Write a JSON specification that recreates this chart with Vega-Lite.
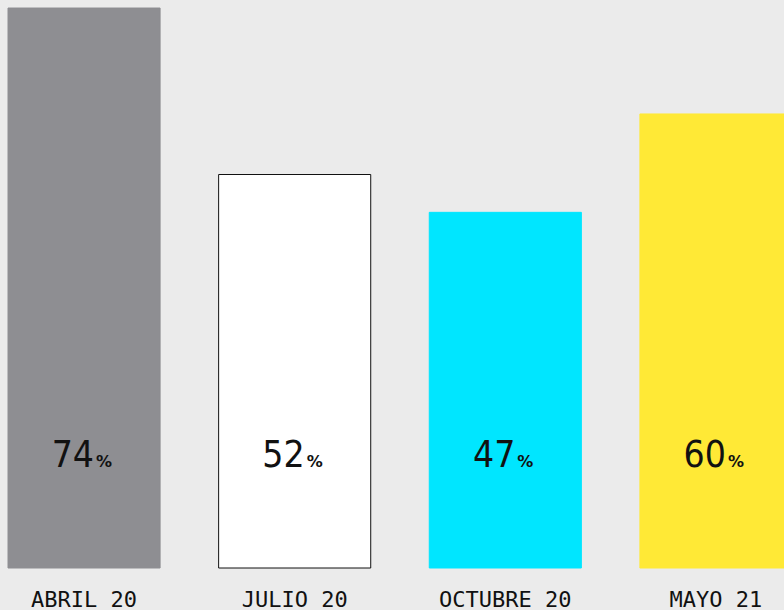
{
  "$schema": "https://vega.github.io/schema/vega-lite/v6.json",
  "autosize": "none",
  "padding": {"left": 0, "top": 0, "right": 0, "bottom": 42},
  "width": 784,
  "height": 568,
  "background": "#ebebeb",
  "config": {"view": {"stroke": null}},
  "data": {"values": [
    {"periodo": "ABRIL 20", "valor": 74, "num": "74", "pct": "%"},
    {"periodo": "JULIO 20", "valor": 52, "num": "52", "pct": "%"},
    {"periodo": "OCTUBRE 20", "valor": 47, "num": "47", "pct": "%"},
    {"periodo": "MAYO 21", "valor": 60, "num": "60", "pct": "%"}
  ]},
  "encoding": {
    "x": {
      "field": "periodo", "type": "nominal", "sort": null,
      "scale": {"range": [8, 792], "paddingInner": 0.278, "paddingOuter": 0},
      "axis": {
        "title": null, "domain": false, "ticks": false, "labelAngle": 0,
        "labelFont": "DejaVu Sans Mono", "labelFontSize": 22, "labelColor": "#111111",
        "labelBaseline": "alphabetic", "labelPadding": 38, "grid": false
      }
    }
  },
  "layer": [
    {
      "mark": {"type": "bar", "strokeWidth": 1},
      "encoding": {
        "y": {"field": "valor", "type": "quantitative", "scale": {"domain": [0, 75.06], "nice": false}, "axis": null},
        "color": {"field": "periodo", "type": "nominal", "legend": null,
          "scale": {"domain": ["ABRIL 20", "JULIO 20", "OCTUBRE 20", "MAYO 21"], "range": ["#8e8e92", "#ffffff", "#00e6ff", "#ffe936"]}},
        "stroke": {"field": "periodo", "type": "nominal", "legend": null,
          "scale": {"domain": ["ABRIL 20", "JULIO 20", "OCTUBRE 20", "MAYO 21"], "range": ["#8e8e92", "#111111", "#00e6ff", "#ffe936"]}}
      }
    },
    {
      "mark": {"type": "text", "font": "DejaVu Sans Condensed, Roboto", "fontWeight": 300, "fontSize": 37, "align": "right", "baseline": "alphabetic", "dx": 10, "color": "#111111"},
      "encoding": {
        "y": {"datum": 13.35, "type": "quantitative", "scale": {"domain": [0, 75.06], "nice": false}},
        "text": {"field": "num"}
      }
    },
    {
      "mark": {"type": "text", "font": "DejaVu Sans", "fontWeight": "bold", "fontSize": 16, "align": "left", "baseline": "alphabetic", "dx": 12, "color": "#111111"},
      "encoding": {
        "y": {"datum": 13.35, "type": "quantitative", "scale": {"domain": [0, 75.06], "nice": false}},
        "text": {"field": "pct"}
      }
    }
  ]
}
